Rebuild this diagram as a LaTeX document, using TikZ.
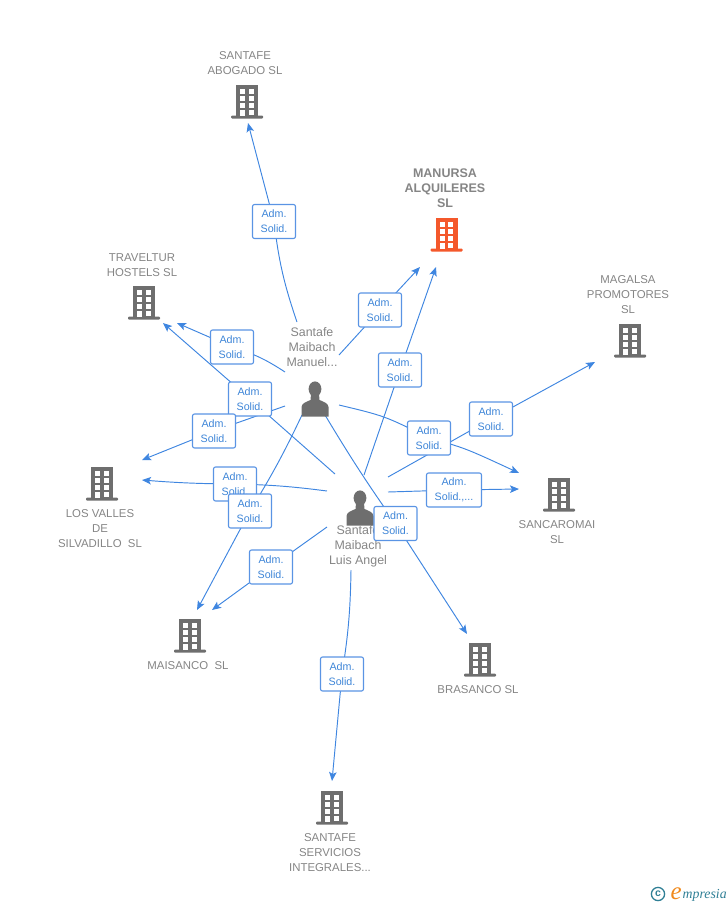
\documentclass[tikz,border=0pt]{standalone}
\usepackage{fontspec}
\setmainfont{Liberation Sans}
\newfontfamily\logofont{Liberation Serif}
\usetikzlibrary{arrows.meta}
\pgfdeclarelayer{back}
\pgfsetlayers{back,main}
\definecolor{linkblue}{HTML}{3F86E0}
\definecolor{boxblue}{HTML}{5A94E4}
\definecolor{labtext}{HTML}{3F86D8}
\definecolor{caption}{HTML}{858585}
\definecolor{iconGray}{HTML}{6E6E6E}
\definecolor{iconRed}{HTML}{F4582B}
\definecolor{logoteal}{HTML}{2F7F95}
\definecolor{logoorange}{HTML}{F08A1D}
\tikzset{
  x=1pt,y=-1pt,
  conn/.style={draw=linkblue,line width=0.95pt},
  tip/.style={conn,-{Stealth[length=9pt,width=7.5pt,inset=2pt]}},
  admbox/.style={draw=boxblue,line width=1.1pt,rounded corners=2pt,fill=white,
     text=labtext,font=\fontsize{10.7}{15}\selectfont,align=center,inner sep=0pt,minimum height=34pt},
  adm/.style={admbox,minimum width=43pt},
  admwide/.style={admbox,minimum width=55pt},
  bcap/.style={text=caption,font=\fontsize{11.4}{15}\selectfont,align=center,inner sep=0pt},
  pcap/.style={text=caption,font=\fontsize{12.4}{14.8}\selectfont,align=center,inner sep=0pt},
  mcap/.style={text=caption,font=\fontsize{12.5}{15.3}\selectfont\bfseries,align=center,inner sep=0pt},
  pics/bldg/.style={code={
    \fill[#1] (-11,0) rectangle (11,31);
    \fill[#1,rounded corners=1pt] (-16,30.5) rectangle (16,33.5);
    \foreach \yy in {4,11,18}{
      \fill[white] (-6.8,\yy) rectangle (-1.8,\yy+4.5);
      \fill[white] (1.8,\yy) rectangle (6.8,\yy+4.5);
    }
    \fill[white] (-6.8,25) rectangle (-1.8,31);
    \fill[white] (1.8,25) rectangle (6.8,29.5);
  }},
  pics/person/.style={code={
    \fill[iconGray] (0,0) ellipse (6.4 and 7.6);
    \fill[iconGray] (-4,5) -- (4,5) -- (4.5,11) .. controls (9,13) and (13,14) .. (13.5,18) -- (13.5,27.5) -- (-13.5,27.5) -- (-13.5,18) .. controls (-13,14) and (-9,13) .. (-4.5,11) -- cycle;
  }},
}
\begin{document}
\begin{tikzpicture}
\useasboundingbox (0,0) rectangle (728,905);
% buildings
\pic at (247,85) {bldg=iconGray};
\pic at (446.5,218) {bldg=iconRed};
\pic at (144,286) {bldg=iconGray};
\pic at (630,324) {bldg=iconGray};
\pic at (102,467) {bldg=iconGray};
\pic at (559,478) {bldg=iconGray};
\pic at (190,619) {bldg=iconGray};
\pic at (480,643) {bldg=iconGray};
\pic at (332,791) {bldg=iconGray};
% people
\pic at (315,389) {person};
\pic at (360,498) {person};
% captions
\node[bcap] (cAbogado) at (245,63) {SANTAFE\\ABOGADO SL};
\node[mcap] (cManursa) at (445,188) {MANURSA\\[0pt]ALQUILERES\\SL};
\node[bcap] (cTravel) at (142,265) {TRAVELTUR\\HOSTELS SL};
\node[bcap] (cMagalsa) at (628,294.5) {MAGALSA\\PROMOTORES\\SL};
\node[bcap] (cValles) at (100,528.5) {LOS VALLES\\DE\\SILVADILLO\ \ SL};
\node[bcap] (cSanca) at (557,532) {SANCAROMAI\\SL};
\node[bcap] (cMaisanco) at (188,665.5) {MAISANCO\ \ SL};
\node[bcap] (cBrasanco) at (478,689.5) {BRASANCO SL};
\node[bcap] (cServ) at (330,852.5) {SANTAFE\\SERVICIOS\\INTEGRALES...};
\node[pcap] (pManuel) at (312,347) {Santafe\\Maibach\\Manuel...};
\node[pcap] (pLuis) at (358,546.5) {Santafe\\Maibach\\Luis Angel};
% relation labels
\node[adm] (a1) at (274,221.5) {Adm.\\Solid.};
\node[adm] (a2) at (380,310) {Adm.\\Solid.};
\node[adm] (a3) at (232,347) {Adm.\\Solid.};
\node[adm] (a8) at (250,399) {Adm.\\Solid.};
\node[adm] (a4) at (214,431) {Adm.\\Solid.};
\node[adm] (a9) at (400,370) {Adm.\\Solid.};
\node[adm] (a6) at (429,438) {Adm.\\Solid.};
\node[adm] (a10) at (491,419) {Adm.\\Solid.};
\node[admwide] (a11) at (454,490) {Adm.\\Solid.,...};
\node[adm] (a12) at (235,484) {Adm.\\Solid.};
\node[adm] (a5) at (250,511) {Adm.\\Solid.};
\node[adm] (a7) at (395.5,523.5) {Adm.\\Solid.};
\node[adm] (a13) at (271,567) {Adm.\\Solid.};
\node[adm] (a14) at (342,674) {Adm.\\Solid.};
% connector ends
\coordinate (s1) at (297,322);   \coordinate (t1) at (248,123);
\coordinate (s2) at (339,355);   \coordinate (t2) at (420,267);
\coordinate (s3) at (285,372);   \coordinate (t3) at (177,323);
\coordinate (s4) at (285,406);   \coordinate (t4) at (142,460);
\coordinate (s5) at (302,415);   \coordinate (t5) at (197,610);
\coordinate (s6) at (339,405);   \coordinate (t6) at (519,473);
\coordinate (s7) at (325,415);   \coordinate (t7) at (467,634);
\coordinate (s8) at (335,474);   \coordinate (t8) at (163,323);
\coordinate (s9) at (364,475);   \coordinate (t9) at (436,267);
\coordinate (s10) at (388,477);  \coordinate (t10) at (595,362);
\coordinate (s11) at (388,492);  \coordinate (t11) at (519,489);
\coordinate (s12) at (327,491);  \coordinate (t12) at (142,480);
\coordinate (s13) at (327,527);  \coordinate (t13) at (212,610);
\coordinate (s14) at (351,570);  \coordinate (t14) at (332,781);
% connectors
\begin{pgfonlayer}{back}
\draw[tip] (s1) to[bend left=6] (a1.center) to (t1);
\draw[tip] (s2) to (a2.center) to (t2);
\draw[tip] (s3) to[bend right=8] (a3.center) to (t3);
\draw[tip] (s4) to (a4.center) to (t4);
\draw[tip] (s5) to[bend left=3] (a5.center) to (t5);
\draw[tip] (s6) .. controls (385,416) .. (a6.center) .. controls (465,448) .. (t6);
\draw[tip] (s7) to[bend right=2] (a7.center) to (t7);
\draw[tip] (s8) to (a8.center) to (t8);
\draw[tip] (s9) to (a9.center) to (t9);
\draw[tip] (s10) to (a10.center) to (t10);
\draw[tip] (s11) to (a11.center) to (t11);
\draw[tip] (s12) to[bend right=3] (a12.center) to[bend left=2] (t12);
\draw[tip] (s13) to (a13.center) to (t13);
\draw[tip] (s14) to[bend left=4] (a14.center) to (t14);
\end{pgfonlayer}
% logo
\draw[logoteal,line width=1.3pt] (658,894) circle (6.6);
\node[text=logoteal,font=\fontsize{10.5}{10.5}\selectfont\bfseries,inner sep=0pt] (logoc) at (658,893.5) {c};
\node[text=logoorange,font=\logofont\itshape\fontsize{25}{25}\selectfont,inner sep=0pt,anchor=base west] (logoe) at (670.5,899) {e};
\node[text=logoteal,font=\logofont\itshape\fontsize{13.8}{13.8}\selectfont,inner sep=0pt,anchor=base west] (logot) at (682.5,898) {mpresia};
\end{tikzpicture}
\end{document}
